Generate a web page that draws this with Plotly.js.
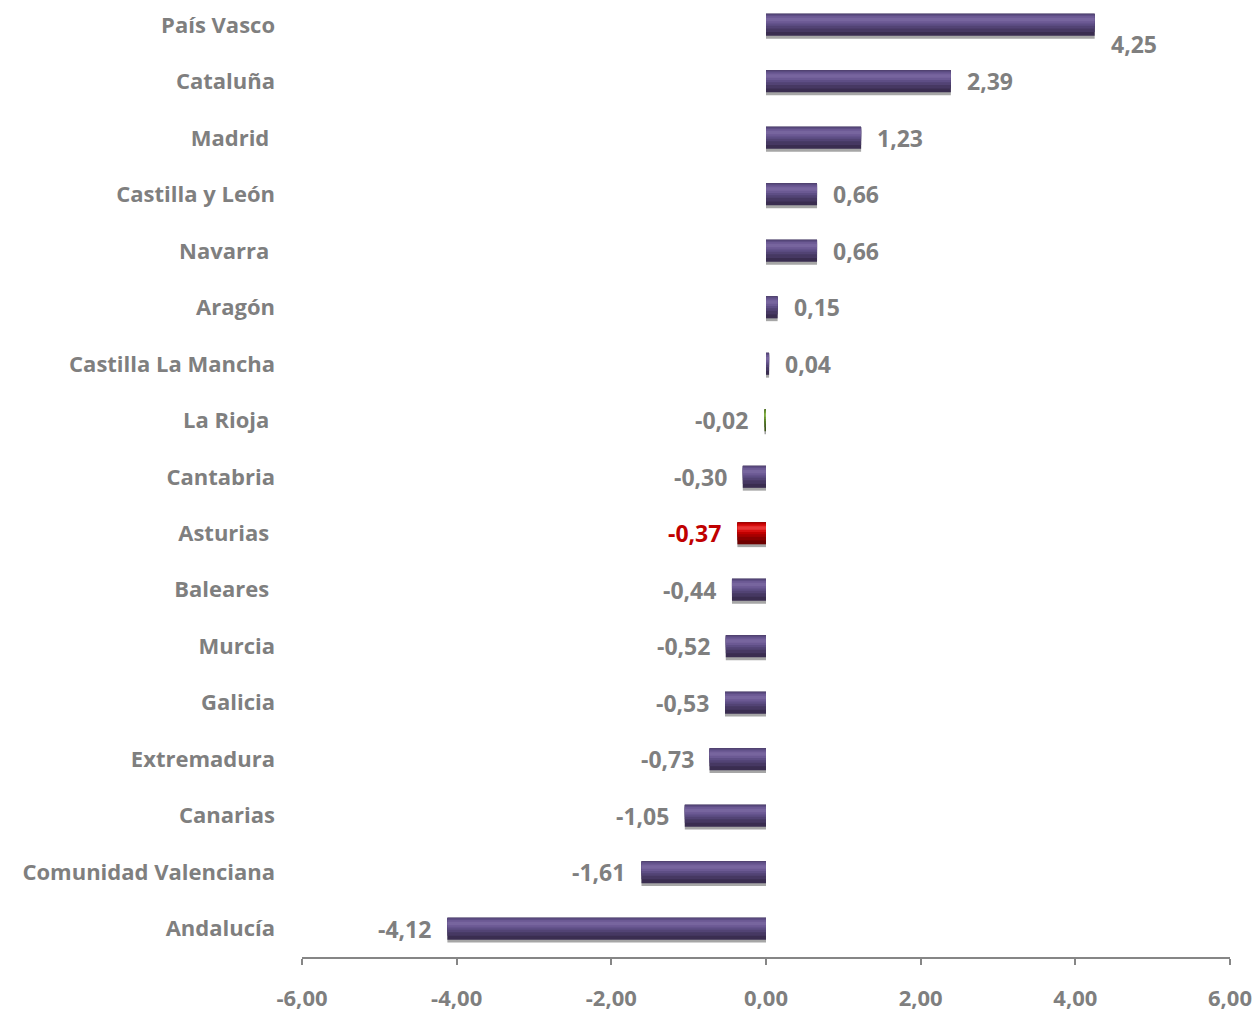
<!DOCTYPE html>
<html><head><meta charset="utf-8">
<script src="https://cdn.plot.ly/plotly-3.0.1.min.js"></script>
<style>html,body{margin:0;padding:0;background:#fff}#chart{width:1258px;height:1015px}</style>
</head><body><div id="chart"></div>
<script>
const regions = ["País Vasco","Cataluña","Madrid ","Castilla y León","Navarra ","Aragón","Castilla La Mancha","La Rioja ","Cantabria","Asturias ","Baleares ","Murcia","Galicia","Extremadura","Canarias","Comunidad Valenciana","Andalucía"];
const values = [4.25,2.39,1.23,0.66,0.66,0.15,0.04,-0.02,-0.30,-0.37,-0.44,-0.52,-0.53,-0.73,-1.05,-1.61,-4.12];
const tickValues = [-6,-4,-2,0,2,4,6];
const highlight = "Asturias ";
const otherColor = "La Rioja ";

const cats = regions.map(r => r.replace(/ $/, "\u00a0"));
const fmt = v => v.toFixed(2).replace(".", ",");
const gray = "#7f7f7f";
const font = "'Open Sans', sans-serif";

const purple = ["#3a2d50","#463862","#524374","#5e4e85","#6b5993","#77659e"];
const red = ["#6e0000","#8a0000","#a60000","#c00000","#d81010","#e83535"];
const green = ["#3c5518","#486620","#557a26","#638d30","#76a03a","#8cb850"];
const shade = k => regions.map(r => r === highlight ? red[k] : r === otherColor ? green[k] : purple[k]);

const W = 0.39;
const layers = [
  {w:1.00, o:0.00},
  {w:0.82, o:0.00},
  {w:0.66, o:0.00},
  {w:0.50, o:0.04},
  {w:0.34, o:0.10},
  {w:0.16, o:0.18}
];
const traces = [
  {type:"bar", orientation:"h", y:cats, x:values, width:W, offset:-W/2+0.05,
   marker:{color:"#a6a6a6"}, hoverinfo:"skip"}
].concat(layers.map((L, k) => ({
  type:"bar", orientation:"h", y:cats, x:values, width:W*L.w, offset:-W/2+W*L.o,
  marker:{color:shade(k)}, hoverinfo:"skip"
})));

const annotations = regions.map((r, i) => ({
  x: values[i], y: cats[i], xref:"x", yref:"y",
  text: fmt(values[i]), showarrow:false,
  xanchor: values[i] >= 0 ? "left" : "right",
  xshift: values[i] >= 0 ? 14 : -14,
  yshift: (i === 0) ? -19 : 0,
  font:{family:font, size:23, color: r === highlight ? "#c00000" : gray, weight:700}
}));

const layout = {
  width:1258, height:1015,
  margin:{l:302, r:28, t:0, b:58},
  paper_bgcolor:"#fff", plot_bgcolor:"#fff",
  barmode:"overlay", showlegend:false,
  xaxis:{range:[-6,6], tickmode:"array", tickvals:tickValues, ticktext:tickValues.map(fmt),
    showgrid:false, zeroline:false, automargin:false,
    showline:true, linecolor:"#868686", linewidth:2, ticks:"outside", ticklen:6, tickwidth:2, tickcolor:"#868686",
    ticklabelstandoff:15,
    tickfont:{family:font, size:22, color:gray, weight:700}, fixedrange:true},
  yaxis:{type:"category", range:[16.5,-0.44], autorange:false, showgrid:false, zeroline:false, showline:false, ticks:"",
    automargin:false, ticklabelstandoff:26,
    tickfont:{family:font, size:22, color:gray, weight:700}, fixedrange:true},
  annotations
};
Plotly.newPlot("chart", traces, layout, {displayModeBar:false, staticPlot:true});
</script></body></html>
